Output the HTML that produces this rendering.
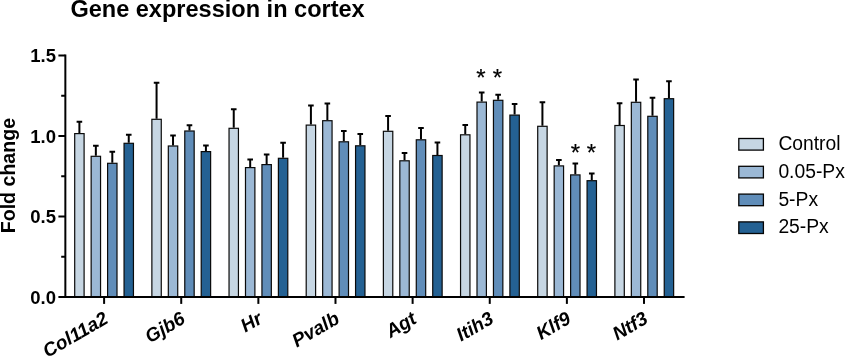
<!DOCTYPE html>
<html><head><meta charset="utf-8"><title>Gene expression in cortex</title>
<style>
html,body{margin:0;padding:0;background:#fff;}
body{width:846px;height:356px;overflow:hidden;}
svg{display:block;font-family:"Liberation Sans",Arial,sans-serif;}
.t{font-weight:bold;fill:#000;}
</style></head><body>
<svg width="846" height="356" viewBox="0 0 846 356">
<rect width="846" height="356" fill="#fff"/>
<text class="t" x="70.4" y="17" font-size="23" textLength="294.3" lengthAdjust="spacingAndGlyphs">Gene expression in cortex</text>
<text class="t" font-size="19.6" text-anchor="middle" transform="translate(14.6,175.6) rotate(-90)">Fold change</text>
<path d="M79.40 133.00V121.70M76.60 121.80H82.20" stroke="#000" stroke-width="2" fill="none"/>
<rect x="74.70" y="133.60" width="9.40" height="163.40" fill="#C6D6E3" stroke="#0a0a0a" stroke-width="1.2"/>
<path d="M95.85 155.70V145.70M93.05 145.80H98.65" stroke="#000" stroke-width="2" fill="none"/>
<rect x="91.15" y="156.30" width="9.40" height="140.70" fill="#9BB8D5" stroke="#0a0a0a" stroke-width="1.2"/>
<path d="M112.30 162.70V151.70M109.50 151.80H115.10" stroke="#000" stroke-width="2" fill="none"/>
<rect x="107.60" y="163.30" width="9.40" height="133.70" fill="#608DB9" stroke="#0a0a0a" stroke-width="1.2"/>
<path d="M128.75 142.70V134.70M125.95 134.80H131.55" stroke="#000" stroke-width="2" fill="none"/>
<rect x="124.05" y="143.30" width="9.40" height="153.70" fill="#246193" stroke="#0a0a0a" stroke-width="1.2"/>
<path d="M156.57 118.70V82.70M153.77 82.80H159.37" stroke="#000" stroke-width="2" fill="none"/>
<rect x="151.87" y="119.30" width="9.40" height="177.70" fill="#C6D6E3" stroke="#0a0a0a" stroke-width="1.2"/>
<path d="M173.02 145.40V135.40M170.22 135.50H175.82" stroke="#000" stroke-width="2" fill="none"/>
<rect x="168.32" y="146.00" width="9.40" height="151.00" fill="#9BB8D5" stroke="#0a0a0a" stroke-width="1.2"/>
<path d="M189.47 130.40V125.10M186.67 125.20H192.27" stroke="#000" stroke-width="2" fill="none"/>
<rect x="184.77" y="131.00" width="9.40" height="166.00" fill="#608DB9" stroke="#0a0a0a" stroke-width="1.2"/>
<path d="M205.92 151.00V145.40M203.12 145.50H208.72" stroke="#000" stroke-width="2" fill="none"/>
<rect x="201.22" y="151.60" width="9.40" height="145.40" fill="#246193" stroke="#0a0a0a" stroke-width="1.2"/>
<path d="M233.74 127.70V109.10M230.94 109.20H236.54" stroke="#000" stroke-width="2" fill="none"/>
<rect x="229.04" y="128.30" width="9.40" height="168.70" fill="#C6D6E3" stroke="#0a0a0a" stroke-width="1.2"/>
<path d="M250.19 167.00V159.40M247.39 159.50H252.99" stroke="#000" stroke-width="2" fill="none"/>
<rect x="245.49" y="167.60" width="9.40" height="129.40" fill="#9BB8D5" stroke="#0a0a0a" stroke-width="1.2"/>
<path d="M266.64 164.00V154.40M263.84 154.50H269.44" stroke="#000" stroke-width="2" fill="none"/>
<rect x="261.94" y="164.60" width="9.40" height="132.40" fill="#608DB9" stroke="#0a0a0a" stroke-width="1.2"/>
<path d="M283.09 157.70V142.70M280.29 142.80H285.89" stroke="#000" stroke-width="2" fill="none"/>
<rect x="278.39" y="158.30" width="9.40" height="138.70" fill="#246193" stroke="#0a0a0a" stroke-width="1.2"/>
<path d="M310.91 124.50V105.40M308.11 105.50H313.71" stroke="#000" stroke-width="2" fill="none"/>
<rect x="306.21" y="125.10" width="9.40" height="171.90" fill="#C6D6E3" stroke="#0a0a0a" stroke-width="1.2"/>
<path d="M327.36 120.10V103.40M324.56 103.50H330.16" stroke="#000" stroke-width="2" fill="none"/>
<rect x="322.66" y="120.70" width="9.40" height="176.30" fill="#9BB8D5" stroke="#0a0a0a" stroke-width="1.2"/>
<path d="M343.81 141.20V130.90M341.01 131.00H346.61" stroke="#000" stroke-width="2" fill="none"/>
<rect x="339.11" y="141.80" width="9.40" height="155.20" fill="#608DB9" stroke="#0a0a0a" stroke-width="1.2"/>
<path d="M360.26 145.20V133.90M357.46 134.00H363.06" stroke="#000" stroke-width="2" fill="none"/>
<rect x="355.56" y="145.80" width="9.40" height="151.20" fill="#246193" stroke="#0a0a0a" stroke-width="1.2"/>
<path d="M388.08 130.70V115.80M385.28 115.90H390.88" stroke="#000" stroke-width="2" fill="none"/>
<rect x="383.38" y="131.30" width="9.40" height="165.70" fill="#C6D6E3" stroke="#0a0a0a" stroke-width="1.2"/>
<path d="M404.53 160.20V152.90M401.73 153.00H407.33" stroke="#000" stroke-width="2" fill="none"/>
<rect x="399.83" y="160.80" width="9.40" height="136.20" fill="#9BB8D5" stroke="#0a0a0a" stroke-width="1.2"/>
<path d="M420.98 139.20V127.90M418.18 128.00H423.78" stroke="#000" stroke-width="2" fill="none"/>
<rect x="416.28" y="139.80" width="9.40" height="157.20" fill="#608DB9" stroke="#0a0a0a" stroke-width="1.2"/>
<path d="M437.43 154.90V142.40M434.63 142.50H440.23" stroke="#000" stroke-width="2" fill="none"/>
<rect x="432.73" y="155.50" width="9.40" height="141.50" fill="#246193" stroke="#0a0a0a" stroke-width="1.2"/>
<path d="M465.25 134.20V124.90M462.45 125.00H468.05" stroke="#000" stroke-width="2" fill="none"/>
<rect x="460.55" y="134.80" width="9.40" height="162.20" fill="#C6D6E3" stroke="#0a0a0a" stroke-width="1.2"/>
<path d="M481.70 101.50V92.40M478.90 92.50H484.50" stroke="#000" stroke-width="2" fill="none"/>
<rect x="477.00" y="102.10" width="9.40" height="194.90" fill="#9BB8D5" stroke="#0a0a0a" stroke-width="1.2"/>
<path d="M498.15 99.70V94.70M495.35 94.80H500.95" stroke="#000" stroke-width="2" fill="none"/>
<rect x="493.45" y="100.30" width="9.40" height="196.70" fill="#608DB9" stroke="#0a0a0a" stroke-width="1.2"/>
<path d="M514.60 114.50V103.80M511.80 103.90H517.40" stroke="#000" stroke-width="2" fill="none"/>
<rect x="509.90" y="115.10" width="9.40" height="181.90" fill="#246193" stroke="#0a0a0a" stroke-width="1.2"/>
<path d="M542.42 125.70V102.20M539.62 102.30H545.22" stroke="#000" stroke-width="2" fill="none"/>
<rect x="537.72" y="126.30" width="9.40" height="170.70" fill="#C6D6E3" stroke="#0a0a0a" stroke-width="1.2"/>
<path d="M558.87 165.30V160.00M556.07 160.10H561.67" stroke="#000" stroke-width="2" fill="none"/>
<rect x="554.17" y="165.90" width="9.40" height="131.10" fill="#9BB8D5" stroke="#0a0a0a" stroke-width="1.2"/>
<path d="M575.32 174.30V163.40M572.52 163.50H578.12" stroke="#000" stroke-width="2" fill="none"/>
<rect x="570.62" y="174.90" width="9.40" height="122.10" fill="#608DB9" stroke="#0a0a0a" stroke-width="1.2"/>
<path d="M591.77 180.10V173.30M588.97 173.40H594.57" stroke="#000" stroke-width="2" fill="none"/>
<rect x="587.07" y="180.70" width="9.40" height="116.30" fill="#246193" stroke="#0a0a0a" stroke-width="1.2"/>
<path d="M619.59 124.90V103.20M616.79 103.30H622.39" stroke="#000" stroke-width="2" fill="none"/>
<rect x="614.89" y="125.50" width="9.40" height="171.50" fill="#C6D6E3" stroke="#0a0a0a" stroke-width="1.2"/>
<path d="M636.04 101.70V79.50M633.24 79.60H638.84" stroke="#000" stroke-width="2" fill="none"/>
<rect x="631.34" y="102.30" width="9.40" height="194.70" fill="#9BB8D5" stroke="#0a0a0a" stroke-width="1.2"/>
<path d="M652.49 115.70V97.60M649.69 97.70H655.29" stroke="#000" stroke-width="2" fill="none"/>
<rect x="647.79" y="116.30" width="9.40" height="180.70" fill="#608DB9" stroke="#0a0a0a" stroke-width="1.2"/>
<path d="M668.94 98.10V81.20M666.14 81.30H671.74" stroke="#000" stroke-width="2" fill="none"/>
<rect x="664.24" y="98.70" width="9.40" height="198.30" fill="#246193" stroke="#0a0a0a" stroke-width="1.2"/>
<path d="M65.35 54.5V298.0" stroke="#000" stroke-width="2" fill="none"/>
<path d="M58.4 297.0H684.6" stroke="#000" stroke-width="2" fill="none"/>
<text class="t" font-size="18.5" x="56" y="303.60" text-anchor="end">0.0</text>
<path d="M61.2 256.75H65.3" stroke="#000" stroke-width="2"/>
<path d="M58.4 216.50H65.3" stroke="#000" stroke-width="2"/>
<text class="t" font-size="18.5" x="56" y="223.10" text-anchor="end">0.5</text>
<path d="M61.2 176.25H65.3" stroke="#000" stroke-width="2"/>
<path d="M58.4 136.00H65.3" stroke="#000" stroke-width="2"/>
<text class="t" font-size="18.5" x="56" y="142.60" text-anchor="end">1.0</text>
<path d="M61.2 95.75H65.3" stroke="#000" stroke-width="2"/>
<path d="M58.4 55.50H65.3" stroke="#000" stroke-width="2"/>
<text class="t" font-size="18.5" x="56" y="62.10" text-anchor="end">1.5</text>
<path d="M104.10 297.0V303.9" stroke="#000" stroke-width="2"/>
<text class="t" font-size="19" font-style="italic" text-anchor="end" transform="translate(109.30,322.3) rotate(-30)">Col11a2</text>
<path d="M181.23 297.0V303.9" stroke="#000" stroke-width="2"/>
<text class="t" font-size="19" font-style="italic" text-anchor="end" transform="translate(186.43,322.3) rotate(-30)">Gjb6</text>
<path d="M258.36 297.0V303.9" stroke="#000" stroke-width="2"/>
<text class="t" font-size="19" font-style="italic" text-anchor="end" transform="translate(263.56,322.3) rotate(-30)">Hr</text>
<path d="M335.49 297.0V303.9" stroke="#000" stroke-width="2"/>
<text class="t" font-size="19" font-style="italic" text-anchor="end" transform="translate(340.69,322.3) rotate(-30)">Pvalb</text>
<path d="M412.62 297.0V303.9" stroke="#000" stroke-width="2"/>
<text class="t" font-size="19" font-style="italic" text-anchor="end" transform="translate(417.82,322.3) rotate(-30)">Agt</text>
<path d="M489.75 297.0V303.9" stroke="#000" stroke-width="2"/>
<text class="t" font-size="19" font-style="italic" text-anchor="end" transform="translate(494.95,322.3) rotate(-30)">Itih3</text>
<path d="M566.88 297.0V303.9" stroke="#000" stroke-width="2"/>
<text class="t" font-size="19" font-style="italic" text-anchor="end" transform="translate(572.08,322.3) rotate(-30)">Klf9</text>
<path d="M644.01 297.0V303.9" stroke="#000" stroke-width="2"/>
<text class="t" font-size="19" font-style="italic" text-anchor="end" transform="translate(649.21,322.3) rotate(-30)">Ntf3</text>
<text x="481" y="85.9" font-size="24" text-anchor="middle" fill="#000" stroke="#000" stroke-width="0.2">*</text>
<text x="497.4" y="85.9" font-size="24" text-anchor="middle" fill="#000" stroke="#000" stroke-width="0.2">*</text>
<text x="575.4" y="160.7" font-size="24" text-anchor="middle" fill="#000" stroke="#000" stroke-width="0.2">*</text>
<text x="591.4" y="160.7" font-size="24" text-anchor="middle" fill="#000" stroke="#000" stroke-width="0.2">*</text>
<rect x="738.8" y="138.50" width="24.6" height="11.6" fill="#C6D6E3" stroke="#050505" stroke-width="1.3"/>
<text x="778.4" y="150.00" font-size="19.3" fill="#000">Control</text>
<rect x="738.8" y="166.30" width="24.6" height="11.6" fill="#9BB8D5" stroke="#050505" stroke-width="1.3"/>
<text x="778.4" y="177.80" font-size="19.3" fill="#000">0.05-Px</text>
<rect x="738.8" y="194.10" width="24.6" height="11.6" fill="#608DB9" stroke="#050505" stroke-width="1.3"/>
<text x="778.4" y="205.60" font-size="19.3" fill="#000">5-Px</text>
<rect x="738.8" y="221.90" width="24.6" height="11.6" fill="#246193" stroke="#050505" stroke-width="1.3"/>
<text x="778.4" y="233.40" font-size="19.3" fill="#000">25-Px</text>
</svg>
</body></html>
